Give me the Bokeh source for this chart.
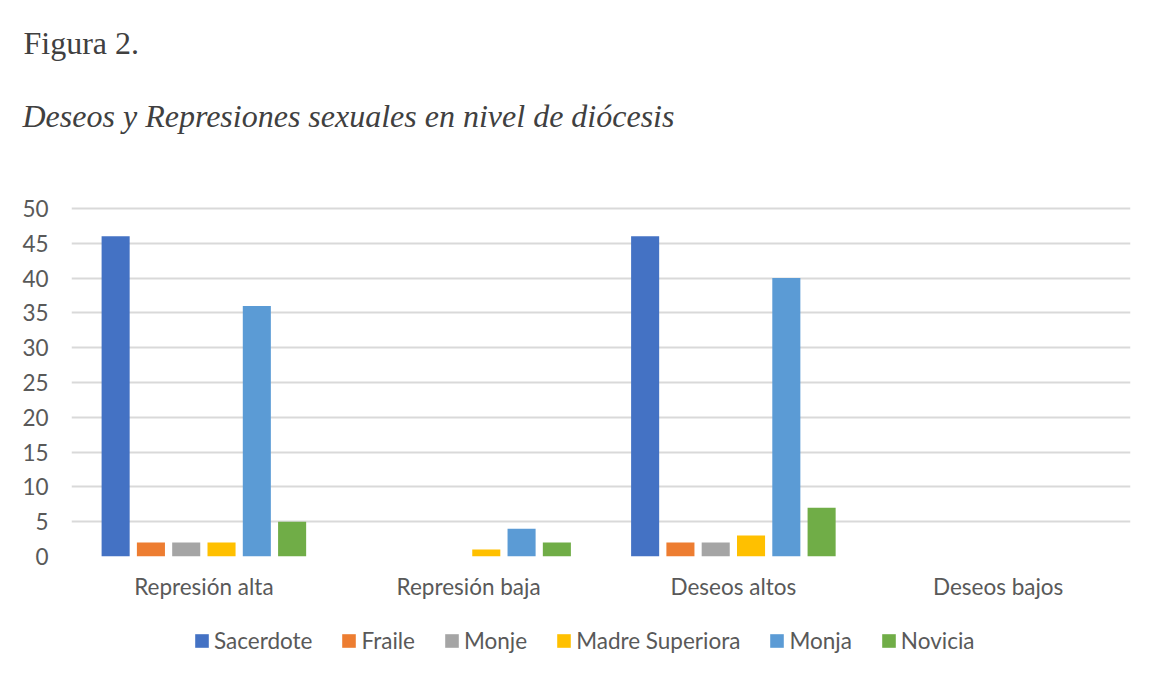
from bokeh.plotting import figure
from bokeh.models import (FactorRange, Range1d, FixedTicker, Legend, LegendItem,
                          ColumnDataSource, Title)
from bokeh.layouts import column
from bokeh.transform import dodge
from bokeh.embed import file_html
from bokeh.resources import INLINE

categories = ["Represión alta", "Represión baja", "Deseos altos", "Deseos bajos"]
series_names = ["Sacerdote", "Fraile", "Monje", "Madre Superiora", "Monja", "Novicia"]
sacerdote = [46, 0, 46, 0]
fraile = [2, 0, 2, 0]
monje = [2, 0, 2, 0]
madre_superiora = [2, 1, 3, 0]
monja = [36, 4, 40, 0]
novicia = [5, 2, 7, 0]
colors = ["#4472C4", "#ED7D31", "#A5A5A5", "#FFC000", "#5B9BD5", "#70AD47"]
y_ticks = [0, 5, 10, 15, 20, 25, 30, 35, 40, 45, 50]

series_values = [sacerdote, fraile, monje, madre_superiora, monja, novicia]

data = {"cat": categories}
keys = ["s0", "s1", "s2", "s3", "s4", "s5"]
for k, vals in zip(keys, series_values):
    data[k] = vals
source = ColumnDataSource(data)

TEXT = "#595959"
FONT = "Lato"

# frame extends a little above the 50 line (empty headroom, no gridline there)
FRAME_TOP = 153
PX_PER_UNIT = 348 / 50
y_end = 50 + (208 - FRAME_TOP) / PX_PER_UNIT

p = figure(x_range=FactorRange(*categories), y_range=Range1d(0, y_end),
           width=1157, height=610, output_backend="svg", toolbar_location=None,
           min_border_left=71, min_border_right=27, min_border_top=FRAME_TOP, min_border_bottom=54)

bar_w = 0.106
offsets = [-0.3333, -0.2, -0.0667, 0.0667, 0.2, 0.3333]
renderers = []
for k, off, c in zip(keys, offsets, colors):
    r = p.vbar(x=dodge("cat", off, range=p.x_range), top=k, bottom=0, width=bar_w,
               source=source, fill_color=c, line_color=None)
    renderers.append(r)

p.xgrid.grid_line_color = None
p.ygrid.grid_line_color = "#d9d9d9"
p.ygrid.grid_line_width = 2
p.outline_line_color = None

p.yaxis.ticker = FixedTicker(ticks=y_ticks)
for ax in (p.xaxis[0], p.yaxis[0]):
    ax.axis_line_color = None
    ax.major_tick_line_color = None
    ax.minor_tick_line_color = None
    ax.major_label_text_font = FONT
    ax.major_label_text_font_size = "22.5px"
    ax.major_label_text_color = TEXT
p.yaxis.major_label_standoff = 17
p.xaxis.major_label_standoff = 10

p.title.text = "Figura 2."
p.title.text_font = "Liberation Serif"
p.title.text_font_style = "normal"
p.title.text_font_size = "32px"
p.title.text_color = "#404040"
p.title.offset = -48
p.title.standoff = 30

p.add_layout(Title(text="Deseos y Represiones sexuales en nivel de diócesis",
                   text_font="Liberation Serif", text_font_style="italic",
                   text_font_size="32px", text_color="#404040", offset=-49, standoff=40), "above")

# legend strip below the chart
p2 = figure(width=1157, height=66, x_range=Range1d(0, 1), y_range=Range1d(0, 1),
            output_backend="svg", toolbar_location=None,
            min_border=0, min_border_left=0, min_border_right=0, min_border_top=0, min_border_bottom=0,
            x_axis_location=None, y_axis_location=None)
p2.outline_line_color = None
p2.grid.visible = False
leg_renderers = []
for c in colors:
    leg_renderers.append(p2.vbar(x=[-1], top=[0], bottom=[0], width=0.1, fill_color=c, line_color=None))

legend = Legend(items=[LegendItem(label=n, renderers=[r]) for n, r in zip(series_names, leg_renderers)],
                orientation="horizontal", location=(122, 22),
                label_text_font=FONT, label_text_font_size="22.5px", label_text_color=TEXT,
                glyph_width=17, glyph_height=17, label_standoff=4, spacing=28,
                padding=0, margin=0, border_line_color=None, background_fill_alpha=0)
p2.add_layout(legend, "center")

layout = column(p, p2, spacing=0)
open("out.html", "w").write(file_html(layout, INLINE))
